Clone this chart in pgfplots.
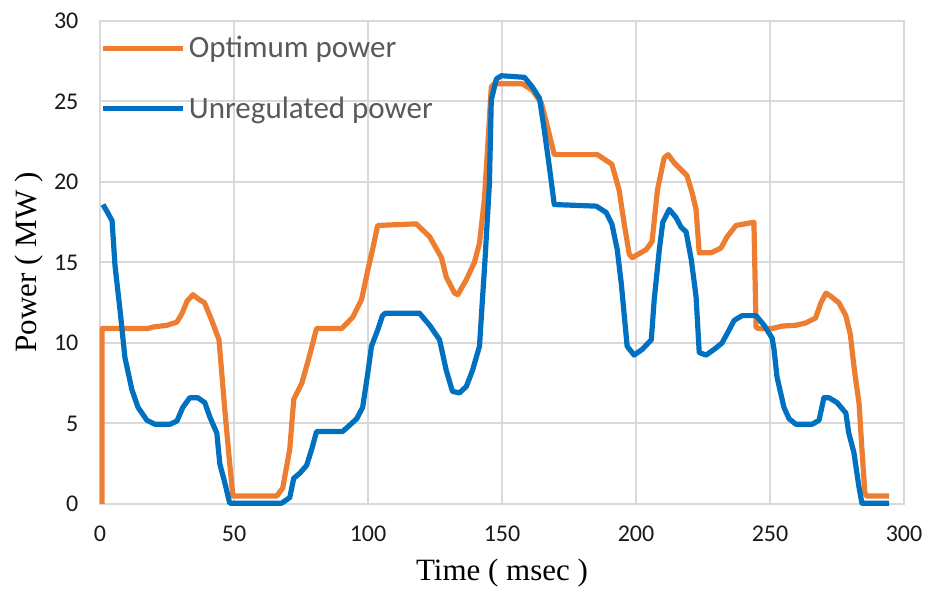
\documentclass[border=0pt]{standalone}
\usepackage{fontspec}
\setmainfont{Carlito}
\newfontfamily\timesf{Liberation Serif}
\usepackage{pgfplots}
\pgfplotsset{compat=1.18}
\definecolor{optc}{HTML}{ED7D31}
\definecolor{unrc}{HTML}{0070C0}
\definecolor{gridc}{HTML}{D9D9D9}
\definecolor{legc}{HTML}{595959}
\begin{document}
\begin{tikzpicture}
\path[use as bounding box] (-50pt,-44pt) rectangle (417.5pt,252pt);
\begin{axis}[
 at={(0pt,0pt)}, anchor=south west,
 scale only axis, width=402pt, height=241.5pt,
 xmin=0, xmax=300, ymin=0, ymax=30,
 xtick={0,50,...,300}, ytick={0,5,...,30},
 grid=major, grid style={draw=gridc, line width=1pt},
 axis line style={draw=gridc, line width=1pt},
 tick style={draw=none},
 clip=false,
 /pgf/number format/assume math mode=true,
 ticklabel style={font=\fontsize{12}{14}\selectfont, text=black!90},
 xticklabel style={yshift=-7.5pt},
 yticklabel style={xshift=-7.3pt},
 xlabel={Time ( msec )}, ylabel={Power ( MW )},
 every axis x label/.style={at={(rel axis cs:0.5,0)}, anchor=base, yshift=-38pt, font=\timesf\fontsize{15.5}{18}\selectfont},
 every axis y label/.style={at={(rel axis cs:0,0.5)}, rotate=90, anchor=base, yshift=31.5pt, font=\timesf\fontsize{15.5}{18}\selectfont},
 legend style={draw=none, fill=none, at={(rel axis cs:0,0.976)}, anchor=north west, inner sep=0pt, row sep=14.3pt, nodes={inner sep=1.75pt}, font=\fontsize{15.5}{18}\selectfont, text=legc, /tikz/every even column/.style={column sep=0pt}},
 legend cell align=left,
 legend image code/.code={\draw[#1, line width=2.5pt] (0pt,0pt) -- (40pt,0pt);},
]
\addplot[optc, line width=2.6pt, line join=round] table {
0.8 0
0.8 10.9
17.9 10.9
20 11.0
25 11.1
28.7 11.3
30.5 11.8
32.5 12.6
34.7 13.0
37 12.7
39 12.5
41.7 11.4
44.4 10.2
45.5 8
46.6 5.8
48.4 2.5
49.6 0.5
66 0.5
68.2 1.0
70.8 3.4
72.3 6.5
75.3 7.5
77.5 8.8
79.4 10.0
80.8 10.9
90.2 10.9
94.3 11.6
97.6 12.7
99.9 14.5
101.7 15.8
103.6 17.3
118 17.4
123 16.6
127.4 15.3
129.2 14.1
132.3 13.1
133.5 13.0
136.6 13.9
139.7 15.0
141.6 16.2
143.4 18.9
144.6 22
146 25.9
147 26.1
157.6 26.1
161.3 25.7
164.7 24.9
167 23.4
169.5 21.7
185.6 21.7
191 21.1
193.7 19.5
195.6 17.4
197.5 15.5
198.6 15.3
203.8 15.8
206 16.3
208 19.5
210.5 21.5
212 21.7
214.2 21.2
217.2 20.7
219 20.4
221 19.3
222.4 18.3
223.6 15.6
228 15.6
231.7 15.9
234 16.6
237.3 17.3
244 17.5
244.8 11.0
245.5 10.9
250.8 10.9
254.5 11.05
259.7 11.1
263.4 11.25
267 11.55
269 12.5
270.9 13.1
272.7 12.9
275.7 12.5
278.3 11.7
280 10.5
281 9.0
282 7.7
283.2 6.3
284.3 3.4
285.4 0.7
286 0.5
294.4 0.5
};
\addlegendentry{Optimum power}
\addplot[unrc, line width=2.6pt, line join=round] table {
1.1 18.6
2.5 18.2
4.5 17.6
5.6 14.8
7.5 12.0
9.3 9.1
11.9 7.1
14.2 6.0
17.5 5.2
20.5 4.95
26.1 4.95
28.7 5.15
30.9 6.0
33.5 6.6
36.5 6.6
39.1 6.3
41 5.4
43.6 4.4
44.7 2.5
46.6 1.3
48.4 0.05
67.8 0.05
70.8 0.4
72.3 1.6
74.5 1.9
77.1 2.4
79 3.4
80.8 4.5
90.5 4.5
93.2 4.9
95.8 5.3
98 6.0
99.9 8.1
101.3 9.8
103.6 10.8
105.4 11.7
106.5 11.85
119.2 11.85
123 11.1
126.7 10.2
129.2 8.3
131.5 7.0
134.1 6.9
136.7 7.3
139 8.3
141.6 9.8
142.7 12.7
143.6 15.0
145.3 19.9
146 25.1
147.9 26.4
149.8 26.6
158.4 26.5
161.3 25.9
164 25.2
165.8 23.2
167.7 20.9
169.5 18.6
185.2 18.5
188.9 18.1
191 17.4
193 15.8
194.5 13.7
196.7 9.8
199.3 9.25
202.3 9.6
205.7 10.2
206.8 12.7
208.7 15.8
210 17.5
212.4 18.3
214.9 17.8
216.8 17.2
218.7 16.9
220.6 15.2
222.4 12.9
223.6 9.4
226.2 9.25
229.9 9.7
232.1 10.0
234.7 10.8
236.6 11.4
239.6 11.7
244.8 11.7
247.8 11.1
250.8 10.3
251.5 9.6
252.6 7.9
255.2 6.0
257.1 5.3
259.7 4.95
265.7 4.95
268.3 5.2
270.1 6.6
272 6.6
275 6.3
278.3 5.65
279.4 4.4
281.3 3.2
283.2 1.05
284.3 0.05
294.4 0.05
};
\addlegendentry{Unregulated power}
\end{axis}
\end{tikzpicture}
\end{document}
